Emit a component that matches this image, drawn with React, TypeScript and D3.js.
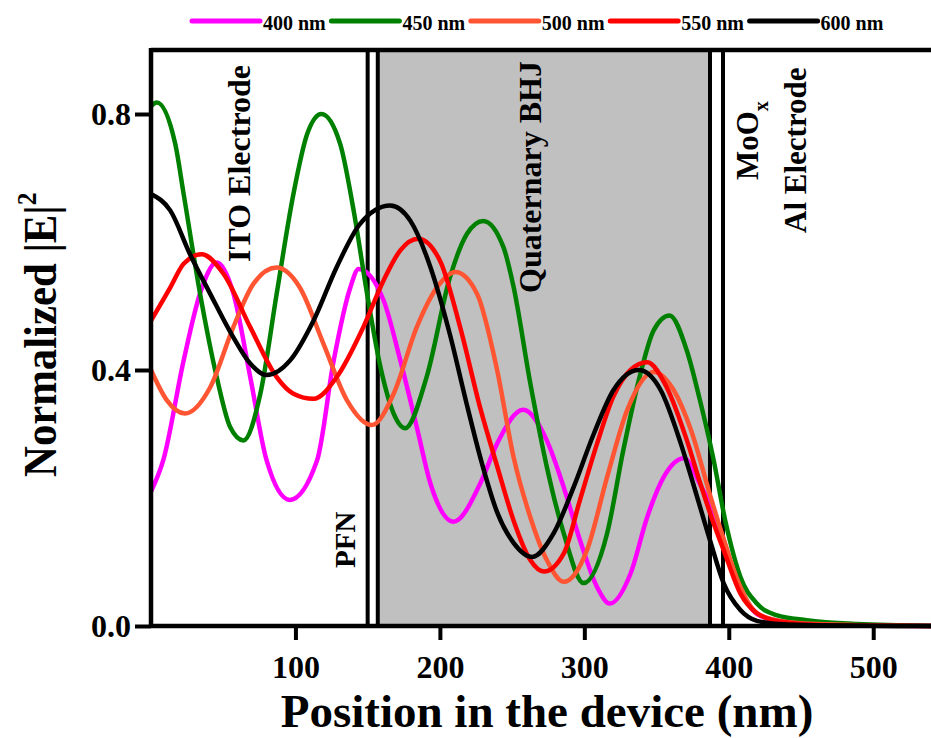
import React, { useEffect, useRef } from "react";
import * as d3 from "d3";

// |E|^2 profiles: [position (nm), normalized |E|^2]
const e400: [number, number][] = [
  [0, 0.21], [8.5, 0.259], [22.6, 0.415], [34, 0.52], [45.5, 0.568], [57, 0.52], [68.7, 0.389],
  [80, 0.259], [96, 0.197], [115, 0.259], [126.5, 0.415], [138, 0.529], [143.7, 0.558], [161, 0.509],
  [172.6, 0.415], [184, 0.311], [193.4, 0.223], [209.5, 0.163], [228, 0.223], [239.6, 0.285],
  [257.6, 0.338], [274, 0.29], [285.7, 0.217], [297, 0.134], [308.8, 0.061], [317.6, 0.035],
  [332, 0.082], [343.5, 0.17], [355, 0.233], [369, 0.262], [380, 0.222], [390, 0.175], [397, 0.13],
  [405, 0.075], [412, 0.04], [420, 0.018], [440, 0.006], [480, 0.001], [540, 0],
];
const e450: [number, number][] = [
  [0, 0.812], [4, 0.818], [16.8, 0.753], [22.6, 0.675], [34, 0.519], [45.5, 0.389], [54.8, 0.311],
  [64, 0.29], [75.7, 0.363], [87, 0.519], [98.6, 0.675], [108, 0.768], [118, 0.8], [131, 0.753],
  [140.3, 0.649], [149.6, 0.519], [158.8, 0.405], [168, 0.332], [176, 0.309], [190.8, 0.389],
  [207, 0.545], [218.8, 0.613], [230, 0.633], [244, 0.592], [251, 0.53], [262.6, 0.379], [274, 0.249],
  [285.7, 0.145], [299.5, 0.067], [315.8, 0.145], [327, 0.275], [338.8, 0.394], [348, 0.462],
  [359, 0.485], [371, 0.43], [380, 0.353], [389, 0.265], [398, 0.16], [408, 0.077], [419.5, 0.035],
  [433, 0.017], [454, 0.009], [489, 0.003], [540, 0],
];
const e500: [number, number][] = [
  [0, 0.4], [10.9, 0.353], [23.5, 0.332], [41, 0.373], [57, 0.467], [71, 0.535], [87, 0.56],
  [103, 0.529], [119.4, 0.441], [135.6, 0.353], [153, 0.314], [168, 0.363], [184, 0.467], [198, 0.529],
  [210.7, 0.553], [225.7, 0.519], [239.6, 0.4], [251, 0.264], [262.6, 0.17], [274, 0.103],
  [285.7, 0.069], [301.9, 0.119], [315.8, 0.233], [329.6, 0.337], [348, 0.397], [362, 0.368],
  [374, 0.305], [387, 0.205], [396, 0.139], [408, 0.061], [419.5, 0.02], [435, 0.008], [460, 0.003],
  [500, 0.001], [540, 0],
];
const e550: [number, number][] = [
  [0, 0.477], [13.4, 0.529], [22.6, 0.566], [35, 0.581], [50.3, 0.55], [68.7, 0.467], [87, 0.389],
  [98.6, 0.363], [112.5, 0.355], [128.6, 0.389], [147, 0.467], [161, 0.54], [172.6, 0.587], [185, 0.605],
  [200, 0.571], [214, 0.467], [228, 0.34], [239.6, 0.25], [251, 0.165], [262.6, 0.103], [272, 0.085],
  [285.7, 0.113], [297, 0.197], [308.8, 0.285], [320, 0.358], [332, 0.4], [343.5, 0.412], [357, 0.373],
  [371, 0.29], [380, 0.225], [388, 0.17], [396.4, 0.119], [408, 0.051], [419.5, 0.02], [435, 0.007],
  [460, 0.002], [500, 0.0005], [540, 0],
];
const e600: [number, number][] = [
  [0, 0.675], [13.4, 0.649], [27, 0.581], [41, 0.519], [57, 0.451], [68.7, 0.41], [80, 0.392],
  [96.3, 0.415], [112.5, 0.477], [128.6, 0.561], [144.6, 0.628], [165.6, 0.657], [179.6, 0.633],
  [193.4, 0.561], [207, 0.455], [218, 0.352], [229, 0.255], [239.6, 0.178], [251, 0.13],
  [263.8, 0.108], [278.8, 0.145], [292.6, 0.217], [306.5, 0.3], [320, 0.368], [337.7, 0.4],
  [353, 0.368], [366.8, 0.285], [375, 0.225], [387, 0.134], [396.4, 0.067], [408, 0.025],
  [419.5, 0.008], [435, 0.003], [460, 0.001], [540, 0],
];

const seriesNames = ["400 nm", "450 nm", "500 nm", "550 nm", "600 nm"];
const seriesColors = ["#ff00ff", "#008000", "#ff5533", "#ff0000", "#000000"];
const seriesData = [e400, e450, e500, e550, e600];

const xTicks = [100, 200, 300, 400, 500];
const yTicks = [0, 0.4, 0.8];
// layer boundaries (nm): ITO | PFN | BHJ | MoOx | Al
const pfnEdges = [150, 157];
const mooxEdges = [387, 396];

const W = 931;
const H = 738;
const FONT = "'Liberation Serif', 'Times New Roman', serif";

export default function App() {
  const xAxisRef = useRef<SVGGElement>(null);
  const yAxisRef = useRef<SVGGElement>(null);

  const x = d3.scaleLinear().domain([0, 540]).range([151, 931]);
  const y = d3.scaleLinear().domain([0, 0.9]).range([626, 50]);

  const line = d3
    .line<[number, number]>()
    .x((d) => x(d[0]))
    .y((d) => y(d[1]))
    .curve(d3.curveMonotoneX);

  useEffect(() => {
    const gx = d3.select(xAxisRef.current);
    gx.call(
      d3.axisBottom(x).tickValues(xTicks).tickSize(14).tickPadding(15).tickFormat(d3.format("d"))
    );
    gx.select(".domain").remove();
    gx.selectAll(".tick line").attr("stroke-width", 4);
    gx.selectAll(".tick text")
      .attr("font-family", FONT)
      .attr("font-weight", "bold")
      .attr("font-size", 32)
      .attr("fill", "#000");

    const gy = d3.select(yAxisRef.current);
    gy.call(
      d3.axisLeft(y).tickValues(yTicks).tickSize(16).tickPadding(4).tickFormat(d3.format(".1f"))
    );
    gy.select(".domain").remove();
    gy.selectAll(".tick line").attr("stroke-width", 4);
    gy.selectAll(".tick text")
      .attr("font-family", FONT)
      .attr("font-weight", "bold")
      .attr("font-size", 32)
      .attr("fill", "#000");
  }, []);

  const lbl = { fontFamily: FONT, fontWeight: "bold" as const, fill: "#000" };

  return (
    <svg
      width={W}
      height={H}
      style={{ position: "absolute", left: 0, top: 0, background: "#fff" }}
    >
      {/* BHJ shading */}
      <rect
        x={x(pfnEdges[1])}
        y={y(0.9)}
        width={x(mooxEdges[0]) - x(pfnEdges[1])}
        height={y(0) - y(0.9)}
        fill="#c0c0c0"
      />
      {[...pfnEdges, ...mooxEdges].map((d) => (
        <line key={d} x1={x(d)} x2={x(d)} y1={y(0.9)} y2={y(0)} stroke="#000" strokeWidth={4} />
      ))}

      {seriesData.map((s, i) => (
        <path key={i} d={line(s) || ""} fill="none" stroke={seriesColors[i]} strokeWidth={4.5} />
      ))}

      {/* frame */}
      <line x1={x(0)} x2={W} y1={y(0.9)} y2={y(0.9)} stroke="#000" strokeWidth={4.5} />
      <line x1={x(0)} x2={W} y1={y(0)} y2={y(0)} stroke="#000" strokeWidth={4.5} />
      <line x1={x(0)} x2={x(0)} y1={y(0.9) - 2} y2={y(0) + 2} stroke="#000" strokeWidth={4.5} />

      <g ref={xAxisRef} transform={`translate(0,${y(0)})`} />
      <g ref={yAxisRef} transform={`translate(${x(0)},0)`} />

      {/* layer labels */}
      <text {...lbl} fontSize={32} transform="translate(250,262) rotate(-90)">ITO Electrode</text>
      <text {...lbl} fontSize={32} transform="translate(541,293) rotate(-90)">Quaternary BHJ</text>
      <text {...lbl} fontSize={29} transform="translate(355,568) rotate(-90)">PFN</text>
      <text {...lbl} fontSize={31} transform="translate(758,180) rotate(-90)">
        MoO<tspan fontSize={20} dy={10}>x</tspan>
      </text>
      <text {...lbl} fontSize={31} transform="translate(806,233) rotate(-90)">Al Electrode</text>

      {/* axis titles */}
      <text {...lbl} fontSize={47} transform="translate(56,477) rotate(-90) scale(0.91,1)">
        Normalized |E|<tspan fontSize={28} dy={-20}>2</tspan>
      </text>
      <text {...lbl} fontSize={47} x={547} y={727} textAnchor="middle">
        Position in the device (nm)
      </text>

      {/* legend */}
      {seriesNames.map((n, i) => {
        const x0 = 192 + i * 139.4;
        return (
          <g key={n}>
            <line
              x1={x0}
              x2={x0 + 68}
              y1={21}
              y2={21}
              stroke={seriesColors[i]}
              strokeWidth={5}
              strokeLinecap="round"
            />
            <text {...lbl} fontSize={20} x={x0 + 71} y={30}>
              {n}
            </text>
          </g>
        );
      })}
    </svg>
  );
}
